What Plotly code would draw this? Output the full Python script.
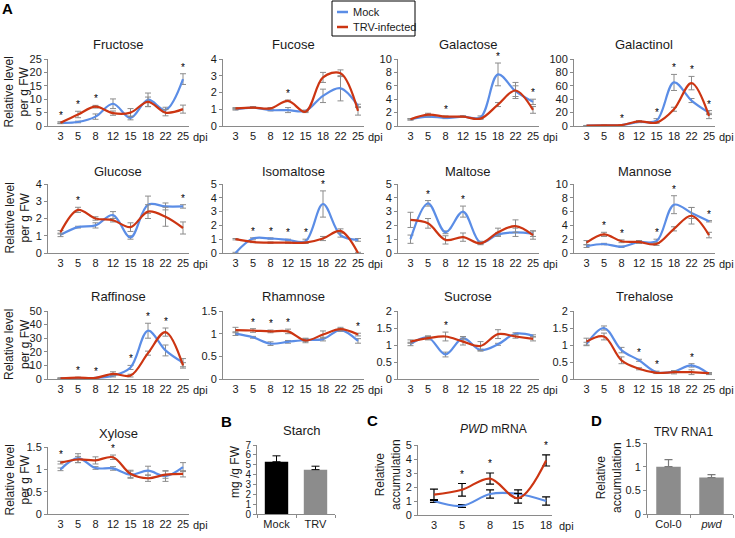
import plotly.graph_objects as go

# ---------------- data ----------------
dpi = ["3", "5", "8", "12", "15", "18", "22", "25"]

fructose_mock = [1.2, 1.5, 3.5, 8.3, 3.0, 9.8, 6.0, 17.5]
fructose_mock_err = [0.3, 0.3, 1.0, 1.8, 0.7, 2.5, 1.0, 2.0]
fructose_trv = [1.2, 4.3, 7.2, 4.8, 5.0, 9.0, 5.0, 6.3]
fructose_trv_err = [0.3, 1.2, 0.5, 0.8, 1.5, 1.8, 1.2, 1.5]
fructose_stars = ["3", "5", "8", "25"]

fucose_mock = [1.0, 1.1, 0.95, 0.95, 0.9, 1.8, 2.25, 1.2]
fucose_mock_err = [0.05, 0.05, 0.05, 0.15, 0.05, 0.4, 0.75, 0.1]
fucose_trv = [1.05, 1.1, 1.05, 1.5, 0.85, 2.9, 3.15, 0.9]
fucose_trv_err = [0.05, 0.05, 0.05, 0.05, 0.05, 0.3, 0.2, 0.25]
fucose_stars = ["12"]

galactose_mock = [1.0, 1.4, 1.2, 1.4, 1.3, 7.7, 5.2, 3.6]
galactose_mock_err = [0.1, 0.1, 0.1, 0.1, 0.2, 1.7, 0.8, 0.4]
galactose_trv = [1.0, 1.7, 1.4, 1.4, 1.1, 3.2, 5.3, 2.4]
galactose_trv_err = [0.1, 0.2, 0.1, 0.1, 0.1, 0.3, 1.2, 0.5]
galactose_stars = ["8", "18", "25"]

galactinol_mock = [0.5, 1.0, 1.5, 6.0, 8.0, 65.0, 38.0, 20.0]
galactinol_mock_err = [0.3, 0.3, 0.5, 1.0, 3.0, 12.0, 3.0, 3.0]
galactinol_trv = [0.5, 1.0, 1.5, 7.0, 5.0, 25.0, 64.0, 15.0]
galactinol_trv_err = [0.3, 0.3, 0.5, 1.0, 1.0, 3.0, 10.0, 4.0]
galactinol_stars = ["8", "15", "18", "22", "25"]

glucose_mock = [1.05, 1.5, 1.6, 2.2, 0.9, 2.8, 2.7, 2.7]
glucose_mock_err = [0.1, 0.05, 0.15, 0.2, 0.1, 0.5, 0.2, 0.1]
glucose_trv = [1.2, 2.5, 2.0, 1.9, 1.5, 2.4, 2.1, 1.45]
glucose_trv_err = [0.1, 0.15, 0.1, 0.1, 0.25, 0.4, 0.55, 0.35]
glucose_stars = ["5", "25"]

isomaltose_mock = [0.0, 1.05, 1.05, 0.95, 0.85, 3.55, 1.3, 0.95]
isomaltose_mock_err = [0.05, 0.05, 0.05, 0.05, 0.15, 0.95, 0.15, 0.1]
isomaltose_trv = [1.0, 0.8, 0.75, 0.75, 0.75, 1.05, 1.6, 0.0]
isomaltose_trv_err = [0.05, 0.05, 0.05, 0.05, 0.05, 0.15, 0.15, 0.05]
isomaltose_stars = ["5", "8", "12", "15", "18"]

maltose_mock = [1.0, 3.6, 1.5, 3.0, 0.75, 1.35, 1.5, 1.4]
maltose_mock_err = [0.3, 0.2, 0.1, 0.4, 0.1, 0.1, 0.3, 0.2]
maltose_trv = [2.4, 2.15, 0.95, 1.15, 0.7, 1.5, 1.95, 1.3]
maltose_trv_err = [0.55, 0.35, 0.3, 0.3, 0.1, 0.3, 0.45, 0.3]
maltose_stars = ["5", "12"]

mannose_mock = [1.0, 1.3, 0.9, 1.6, 1.7, 7.0, 5.8, 4.6]
mannose_mock_err = [0.2, 0.1, 0.1, 0.2, 0.3, 1.3, 0.8, 0.1]
mannose_trv = [1.5, 2.7, 1.7, 1.6, 1.3, 3.5, 5.4, 2.6]
mannose_trv_err = [0.3, 0.3, 0.2, 0.2, 0.2, 0.3, 1.2, 0.4]
mannose_stars = ["5", "8", "15", "18", "25"]

raffinose_mock = [0.5, 0.5, 0.8, 2.5, 8.5, 35.5, 21.0, 12.0]
raffinose_mock_err = [0.3, 0.3, 0.3, 1.0, 1.5, 5.5, 4.0, 3.0]
raffinose_trv = [0.5, 1.0, 0.8, 3.8, 2.5, 19.0, 34.5, 10.0]
raffinose_trv_err = [0.3, 0.3, 0.3, 1.5, 1.0, 1.5, 3.0, 2.0]
raffinose_stars = ["5", "8", "15", "18", "22"]

rhamnose_mock = [1.0, 0.92, 0.78, 0.82, 0.86, 0.88, 1.08, 0.84]
rhamnose_mock_err = [0.04, 0.02, 0.04, 0.03, 0.03, 0.04, 0.03, 0.05]
rhamnose_trv = [1.08, 1.07, 1.05, 1.05, 0.85, 0.98, 1.1, 0.98]
rhamnose_trv_err = [0.06, 0.04, 0.03, 0.05, 0.05, 0.08, 0.04, 0.03]
rhamnose_stars = ["5", "8", "12", "25"]

sucrose_mock = [1.03, 1.22, 0.72, 1.2, 0.85, 1.02, 1.33, 1.27]
sucrose_mock_err = [0.05, 0.05, 0.07, 0.05, 0.03, 0.03, 0.03, 0.03]
sucrose_trv = [1.1, 1.2, 1.25, 1.1, 0.97, 1.32, 1.25, 1.18]
sucrose_trv_err = [0.05, 0.05, 0.13, 0.1, 0.13, 0.13, 0.05, 0.06]
sucrose_stars = ["8"]

trehalose_mock = [1.03, 1.5, 0.85, 0.55, 0.2, 0.22, 0.4, 0.15]
trehalose_mock_err = [0.05, 0.06, 0.08, 0.03, 0.03, 0.03, 0.05, 0.02]
trehalose_trv = [1.1, 1.25, 0.55, 0.3, 0.18, 0.2, 0.2, 0.17]
trehalose_trv_err = [0.1, 0.1, 0.1, 0.03, 0.02, 0.05, 0.07, 0.02]
trehalose_stars = ["12", "15", "22"]

xylose_mock = [1.0, 1.25, 1.03, 1.02, 0.88, 0.97, 0.85, 1.05]
xylose_mock_err = [0.03, 0.1, 0.03, 0.04, 0.08, 0.1, 0.12, 0.1]
xylose_trv = [1.15, 1.22, 1.2, 1.27, 0.9, 0.8, 0.88, 0.9]
xylose_trv_err = [0.03, 0.07, 0.08, 0.05, 0.08, 0.07, 0.08, 0.07]
xylose_stars = ["3", "12"]

starch_groups = ["Mock", "TRV"]
starch_values = [5.3, 4.5]
starch_err = [0.6, 0.35]

pwd_dpi = ["3", "5", "8", "15", "18"]
pwd_mock = [1.0, 0.65, 1.5, 1.5, 1.0]
pwd_mock_err = [0.1, 0.1, 0.3, 0.3, 0.3]
pwd_trv = [1.45, 1.8, 2.6, 1.2, 3.9]
pwd_trv_err = [0.4, 0.45, 0.4, 0.35, 0.4]
pwd_stars = ["5", "8", "18"]

rna1_groups = ["Col-0", "<i>pwd</i>"]
rna1_values = [1.0, 0.77]
rna1_err = [0.15, 0.06]

# ---------------- styling / layout helpers ----------------
W, H = 735, 538
BLUE = "#5B8DE6"
RED = "#CC3512"
ERRC = "#8C8C8C"
AXC = "#8A8A8A"
TXT = "#1a1a1a"
FONT = "Liberation Sans, Arial, sans-serif"


def px(x):
    return x / W


def py(y):
    return 1 - y / H


fig = go.Figure()
layout = {}
ann = []
shapes = []


def label(x, y, text, size=12, angle=0, xanchor="center", color=TXT):
    ann.append(dict(x=px(x), y=py(y), xref="paper", yref="paper", text=text, textangle=angle,
                    showarrow=False, xanchor=xanchor, yanchor="middle",
                    font=dict(size=size, color=color, family=FONT)))


col_x = [48, 223, 398, 574]
# (zero line y, top y, title y)
rows = [(126, 59, 44), (253, 184, 172), (379, 311, 296), (514, 447, 433)]

sugars = [
    ("Fructose", fructose_mock, fructose_mock_err, fructose_trv, fructose_trv_err, fructose_stars, 25, 5),
    ("Fucose", fucose_mock, fucose_mock_err, fucose_trv, fucose_trv_err, fucose_stars, 4, 1),
    ("Galactose", galactose_mock, galactose_mock_err, galactose_trv, galactose_trv_err, galactose_stars, 10, 2),
    ("Galactinol", galactinol_mock, galactinol_mock_err, galactinol_trv, galactinol_trv_err, galactinol_stars, 100, 20),
    ("Glucose", glucose_mock, glucose_mock_err, glucose_trv, glucose_trv_err, glucose_stars, 4, 1),
    ("Isomaltose", isomaltose_mock, isomaltose_mock_err, isomaltose_trv, isomaltose_trv_err, isomaltose_stars, 5, 1),
    ("Maltose", maltose_mock, maltose_mock_err, maltose_trv, maltose_trv_err, maltose_stars, 5, 1),
    ("Mannose", mannose_mock, mannose_mock_err, mannose_trv, mannose_trv_err, mannose_stars, 10, 2),
    ("Raffinose", raffinose_mock, raffinose_mock_err, raffinose_trv, raffinose_trv_err, raffinose_stars, 50, 10),
    ("Rhamnose", rhamnose_mock, rhamnose_mock_err, rhamnose_trv, rhamnose_trv_err, rhamnose_stars, 1.5, 0.5),
    ("Sucrose", sucrose_mock, sucrose_mock_err, sucrose_trv, sucrose_trv_err, sucrose_stars, 2, 0.5),
    ("Trehalose", trehalose_mock, trehalose_mock_err, trehalose_trv, trehalose_trv_err, trehalose_stars, 2, 0.5),
    ("Xylose", xylose_mock, xylose_mock_err, xylose_trv, xylose_trv_err, xylose_stars, 1.5, 0.5),
]


def ax_keys(n):
    return ("xaxis" if n == 1 else f"xaxis{n}", "yaxis" if n == 1 else f"yaxis{n}",
            f"x{n}" if n > 1 else "x", f"y{n}" if n > 1 else "y")


def base_x(domain, rng, n_y):
    return dict(domain=domain, range=rng, type="category", anchor=n_y, automargin=False,
                showline=True, linecolor=AXC, linewidth=1, ticks="", showgrid=False,
                zeroline=False, tickfont=dict(size=11, color=TXT, family=FONT), fixedrange=True)


def base_y(domain, rng, dtick, n_x, size=11):
    return dict(domain=domain, range=rng, dtick=dtick, tick0=0, anchor=n_x, automargin=False,
                showline=True, linecolor=AXC, linewidth=1, ticks="outside", ticklen=3,
                tickcolor=AXC, showgrid=False, zeroline=False,
                tickfont=dict(size=size, color=TXT, family=FONT), fixedrange=True)


def star(i, yv, xr, yr, shift=-1):
    ann.append(dict(x=i, y=yv, xref=xr, yref=yr, text="*", showarrow=False,
                    xanchor="center", yanchor="bottom", yshift=shift,
                    font=dict(size=10, color="#000000", family=FONT)))


def dpi_label(xr, yr, shift):
    ann.append(dict(x=1, y=0, xref=f"{xr} domain", yref=f"{yr} domain", text="dpi",
                    showarrow=False, xanchor="left", yanchor="top", xshift=shift, yshift=-3,
                    font=dict(size=11, color=TXT, family=FONT)))


for k, (name, m, me, t, te, stars, ymax, dt) in enumerate(sugars):
    n = k + 1
    r, c = divmod(k, 4)
    zero_y, top_y, title_y = rows[r]
    a = col_x[c]
    xk, yk, xr, yr = ax_keys(n)
    layout[xk] = base_x([px(a), px(a + 141)], [-0.714, 7.343], yr)
    layout[yk] = base_y([py(zero_y), py(top_y)], [0, ymax], dt, xr)
    for vals, errs, col, lab in ((m, me, BLUE, "Mock"), (t, te, RED, "TRV-infected")):
        fig.add_trace(go.Scatter(
            x=dpi, y=vals, mode="lines", line=dict(color=col, width=2.2, shape="spline"),
            error_y=dict(type="data", array=errs, color=ERRC, thickness=1, width=3),
            xaxis=xr, yaxis=yr, showlegend=False, name=lab, hoverinfo="skip"))
    for s in stars:
        i = dpi.index(s)
        star(i, max(m[i] + me[i], t[i] + te[i]), xr, yr)
    label(a + 70, title_y, name, size=13)
    dpi_label(xr, yr, 2)
    if c == 0:
        label(17, (zero_y + top_y) / 2, "Relative level<br>per g FW", size=12, angle=-90)

# ---- B: starch ----
n = 14
xk, yk, xr, yr = ax_keys(n)
layout[xk] = base_x([px(257), px(335)], [-0.5, 1.5], yr)
layout[xk].update(ticks="outside", tickson="boundaries", ticklen=3, tickcolor=AXC)
layout[yk] = base_y([py(514), py(445)], [0, 7], 1, xr, size=10)
fig.add_trace(go.Bar(x=starch_groups, y=starch_values, width=0.6,
                     marker=dict(color=["#000000", "#8C8C8C"], line=dict(width=0)),
                     error_y=dict(type="data", array=starch_err, arrayminus=[0, 0], symmetric=False,
                                  color="#000000", thickness=1, width=4),
                     xaxis=xr, yaxis=yr, showlegend=False, hoverinfo="skip"))
label(302, 430, "Starch", size=13)
label(235, 472, "mg /g FW", size=12, angle=-90)

# ---- C: PWD mRNA ----
n = 15
xk, yk, xr, yr = ax_keys(n)
layout[xk] = base_x([px(418), px(552)], [-0.57, 4.21], yr)
layout[yk] = base_y([py(515), py(445)], [0, 5], 1, xr)
for vals, errs, col in ((pwd_mock, pwd_mock_err, BLUE), (pwd_trv, pwd_trv_err, RED)):
    fig.add_trace(go.Scatter(x=pwd_dpi, y=vals, mode="lines",
                             line=dict(color=col, width=2.2, shape="spline"),
                             error_y=dict(type="data", array=errs, color="#000000", thickness=1.2, width=4),
                             xaxis=xr, yaxis=yr, showlegend=False, hoverinfo="skip"))
for s in pwd_stars:
    i = pwd_dpi.index(s)
    star(i, max(pwd_mock[i] + pwd_mock_err[i], pwd_trv[i] + pwd_trv_err[i]), xr, yr, shift=2)
dpi_label(xr, yr, 5)
label(493, 429, "<i>PWD</i> mRNA", size=12)
label(388, 475, "Relative<br>accumulation", size=12, angle=-90)

# ---- D: TRV RNA1 ----
n = 16
xk, yk, xr, yr = ax_keys(n)
layout[xk] = base_x([px(647), px(733)], [-0.5, 1.5], yr)
layout[xk].update(ticks="outside", tickson="boundaries", ticklen=3, tickcolor=AXC)
layout[yk] = base_y([py(514), py(443)], [0, 1.5], 0.5, xr)
fig.add_trace(go.Bar(x=rna1_groups, y=rna1_values, width=0.57,
                     marker=dict(color="#8C8C8C", line=dict(width=0)),
                     error_y=dict(type="data", array=rna1_err, arrayminus=[0, 0], symmetric=False,
                                  color="#7a7a7a", thickness=1.2, width=4),
                     xaxis=xr, yaxis=yr, showlegend=False, hoverinfo="skip"))
label(683, 432, "TRV RNA1", size=12)
label(609, 478, "Relative<br>accumulation", size=12, angle=-90)

# ---- panel letters ----
for letter, lx, ly in (("A", 8, 8), ("B", 226, 421), ("C", 372, 420), ("D", 596, 420)):
    label(lx, ly, f"<b>{letter}</b>", size=15, color="#000000")

# ---- legend (drawn) ----
shapes.append(dict(type="rect", xref="paper", yref="paper", x0=px(332), x1=px(415), y0=py(36), y1=py(1),
                   line=dict(color="#000000", width=1), fillcolor="white"))
for lab, col, ly in (("Mock", BLUE, 12), ("TRV-infected", RED, 27)):
    shapes.append(dict(type="line", xref="paper", yref="paper", x0=px(337), x1=px(348), y0=py(ly), y1=py(ly),
                       line=dict(color=col, width=2.5)))
    label(351, ly, lab, size=11, xanchor="left")

fig.update_layout(
    template="none",
    width=W, height=H, margin=dict(l=0, r=0, t=0, b=0, pad=0, autoexpand=False),
    paper_bgcolor="white", plot_bgcolor="white",
    font=dict(family=FONT, color=TXT),
    annotations=ann, shapes=shapes, showlegend=False,
    **layout,
)

fig.write_html("out.html", config={"displayModeBar": False},
               post_script="document.body.style.margin='0px';document.body.style.padding='0px';")
